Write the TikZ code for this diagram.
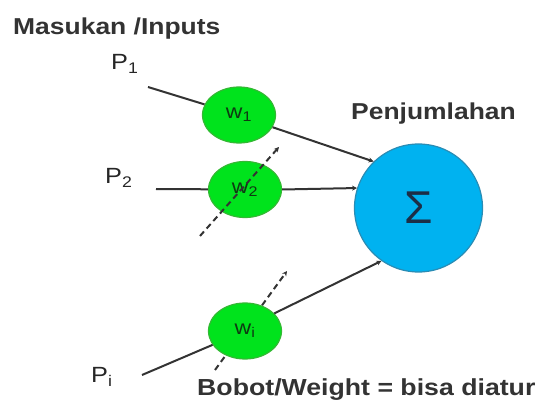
\documentclass[tikz,border=0pt]{standalone}
\usepackage{fontspec}
\usepackage{xcolor}
\usepackage{tikz}
\usetikzlibrary{shapes.geometric, arrows.meta, positioning}
\newfontfamily\labelfont[FakeStretch=1.15]{Liberation Sans}
\newfontfamily\sigmafont{Liberation Sans}
\definecolor{nnline}{HTML}{333333}
\definecolor{nngreen}{HTML}{00E31C}
\definecolor{nngreenedge}{HTML}{34B834}
\definecolor{nnblue}{HTML}{00B2F0}
\definecolor{nnblueedge}{HTML}{2A8CB4}
\definecolor{nnsigma}{HTML}{1C2E46}
\definecolor{nnwtext}{HTML}{0E3A12}

\begin{document}
\begin{tikzpicture}[x=1pt,y=-1pt,font=\labelfont,
    weight/.style={ellipse,draw=nngreenedge,fill=nngreen,line width=1.2pt,minimum width=73pt,minimum height=56pt,inner sep=0pt,text=nnwtext,font=\labelfont\fontsize{20}{24}\selectfont},
    sumnode/.style={circle,draw=nnblueedge,fill=nnblue,line width=1.2pt,minimum size=128pt,inner sep=0pt,text=nnsigma},
    heading/.style={anchor=base west,inner sep=0pt,text=black!80,font=\labelfont\bfseries\fontsize{23}{28}\selectfont},
    inlabel/.style={anchor=base west,inner sep=0pt,text=black!85,font=\labelfont\fontsize{22}{26}\selectfont},
    wire/.style={draw=nnline,line width=2pt},
    adjust/.style={draw=nnline,line width=2pt,dash pattern=on 6pt off 4pt,-{Stealth[length=5pt,width=5pt]}},
    into/.style={-{Stealth[length=5pt,width=5pt]}}]
  \useasboundingbox (0,0) rectangle (539,401);

  % free ends of the connectors
  \coordinate (in1) at (148,87);
  \coordinate (in2) at (156,189);
  \coordinate (ini) at (142,375);
  \coordinate (d2a) at (200,236);
  \coordinate (d2b) at (279,147);
  \coordinate (dia) at (215,370);
  \coordinate (dib) at (287,271);

  % the adjustment arrow of w_i lies behind its node
  \draw[adjust] (dia) -- (dib);

  \node[heading] (title) at (13,35) {Masukan /Inputs};
  \node[heading] (sumlabel) at (351,120) {Penjumlahan};
  \node[heading,font=\labelfont\bfseries\fontsize{23.2}{28}\selectfont] (note) at (197,395) {Bobot/Weight = bisa diatur};

  \node[inlabel] (p1) at (111,70) {P\textsubscript{1}};
  \node[inlabel] (p2) at (105,184) {P\textsubscript{2}};
  \node[inlabel] (pi) at (91,382) {P\textsubscript{i}};

  \node[weight] (w1) at (239,115) {w\textsubscript{1}};
  \node[weight] (w2) at (245,189.5) {w\textsubscript{2}};
  \node[weight] (wi) at (245,331) {w\textsubscript{i}};
  \node[sumnode] (sum) at (418.5,208) {\sigmafont\fontsize{46}{46}\selectfont Σ};

  \draw[wire] (in1) -- (w1);
  \draw[wire,into] (w1.-20) -- (sum.134);
  \draw[wire] (in2) -- (w2);
  \draw[wire,into] (w2.east) -- (sum.162);
  \draw[wire] (ini) -- (wi);
  \draw[wire,into] (wi.31) -- (sum.235);

  \draw[adjust] (d2a) -- (d2b);
\end{tikzpicture}
\end{document}
